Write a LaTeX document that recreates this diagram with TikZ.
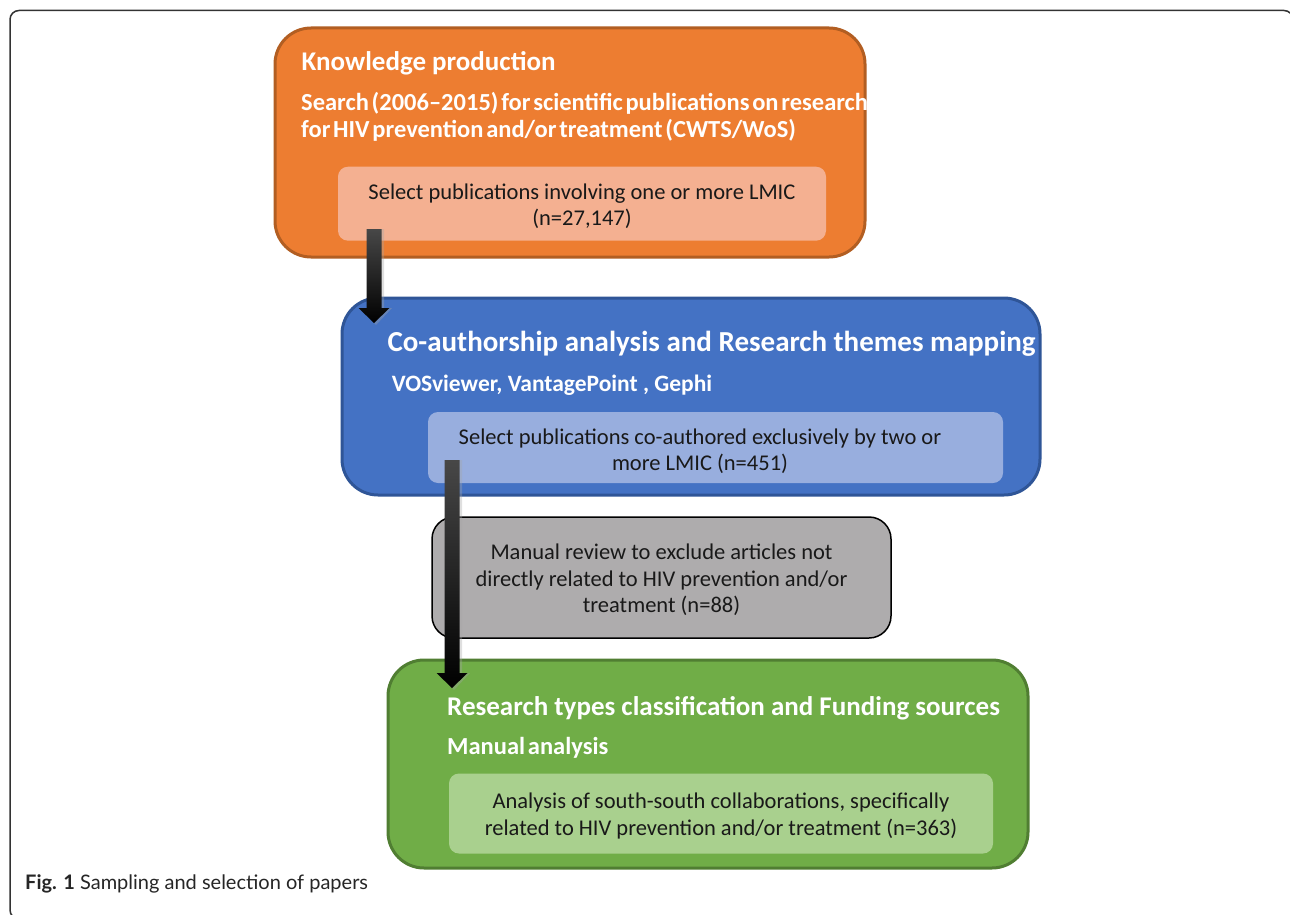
\documentclass[tikz,border=0pt]{standalone}
\usepackage{fontspec}
\setmainfont{Carlito}
\newfontfamily\subfont[WordSpace=0.5]{Carlito}
\newfontfamily\capfont{Lato}
\usetikzlibrary{calc}
\definecolor{orfill}{HTML}{ED7D31}
\definecolor{ordraw}{HTML}{B25E22}
\definecolor{orin}{HTML}{F4B091}
\definecolor{blfill}{HTML}{4472C4}
\definecolor{bldraw}{HTML}{2F5597}
\definecolor{blin}{HTML}{98AEDE}
\definecolor{grfill}{HTML}{70AD47}
\definecolor{grdraw}{HTML}{507E32}
\definecolor{grin}{HTML}{A9D08E}
\definecolor{gyfill}{HTML}{AEACAD}
\definecolor{framecol}{HTML}{333333}
\newcommand\myfatarrow[2]{%
  \fill[black!35,opacity=0.35]
    ($(#1)+(-6,0)$) -- ($(#1)+(10,0)$) -- ($(#2)+(10,-15)$) -- ($(#2)+(18,-15)$) --
    ($(#2)+(2,2)$) -- ($(#2)+(-13,-15)$) -- ($(#2)+(-6,-15)$) -- cycle;
  \shade[top color=black!72, middle color=black, bottom color=black]
    ($(#1)+(-7.5,0)$) -- ($(#1)+(7.5,0)$) -- ($(#2)+(7.5,-15)$) -- ($(#2)+(15.5,-15)$) --
    (#2) -- ($(#2)+(-15.5,-15)$) -- ($(#2)+(-7.5,-15)$) -- cycle;
}
\begin{document}
\begin{tikzpicture}[x=1pt,y=-1pt,
  bigbox/.style={draw, line width=3pt, rounded corners=36pt, inner sep=0pt},
  innerbox/.style={rounded corners=10pt, inner sep=0pt},
  titletext/.style={anchor=base west, inner sep=0pt, text=white,
    font=\bfseries\fontsize{27}{30}\selectfont},
  subtext/.style={anchor=base west, inner sep=0pt, text=white, align=left,
    font=\subfont\bfseries\fontsize{24.5}{27}\selectfont},
  bodytext/.style={inner sep=0pt, align=center, text=black!90,
    font=\fontsize{22.5}{26.5}\selectfont}]
\useasboundingbox (0,0) rectangle (1290,915);
\fill[white] (0,0) rectangle (1290,915);
% outer frame
\draw[framecol, line width=1.5pt, rounded corners=9pt] (10,10.5) rectangle (1293,919);

% orange box
\node[bigbox, draw=ordraw, fill=orfill, minimum width=590pt, minimum height=229pt] (kp) at (570,142.5) {};
\node[titletext] (kpt) at (301.5,70.7) {Knowledge production};
\node[subtext] (kps) at (301,137.7) {Search (2006–2015) for scientific publications on research\\for HIV prevention and/or treatment (CWTS/WoS)};
\node[innerbox, fill=orin, minimum width=488pt, minimum height=74pt] (kpin) at (582,203.7) {};
\node[bodytext] (kpint) at (582,206) {Select publications involving one or more LMIC\\(n=27,147)};

% blue box
\node[bigbox, draw=bldraw, fill=blfill, minimum width=698pt, minimum height=197pt] (ca) at (691,396.5) {};
\node[titletext, font=\bfseries\fontsize{29}{32}\selectfont] (cat) at (387.3,351.7) {Co-authorship analysis and Research themes mapping};
\node[subtext, font=\bfseries\fontsize{23.5}{27}\selectfont] (cas) at (391.7,391) {VOSviewer, VantagePoint , Gephi};
\node[innerbox, fill=blin, minimum width=575pt, minimum height=71pt] (cain) at (715.5,447.5) {};
\node[bodytext] (caint) at (700,451) {Select publications co-authored exclusively by two or\\more LMIC (n=451)};

% gray box
\node[draw=black, line width=1.5pt, rounded corners=22pt, fill=gyfill, inner sep=0pt,
      minimum width=459pt, minimum height=121pt] (mr) at (661.5,577.5) {};
\node[bodytext] (mrt) at (661.5,580) {Manual review to exclude articles not\\directly related to HIV prevention and/or\\treatment (n=88)};

% green box
\node[bigbox, draw=grdraw, fill=grfill, minimum width=640pt, minimum height=208pt] (rt) at (708,764) {};
\node[titletext] (rtt) at (447,715) {Research types classification and Funding sources};
\node[subtext] (rts) at (447,754) {Manual analysis};
\node[innerbox, fill=grin, minimum width=544pt, minimum height=80pt] (rtin) at (721,813.5) {};
\node[bodytext] (rtint) at (721,816) {Analysis of south-south collaborations, specifically\\related to HIV prevention and/or treatment (n=363)};

% arrows
\coordinate (a1s) at (374,229);
\coordinate (a1e) at (374,323);
\coordinate (a2s) at (452,460);
\coordinate (a2e) at (452,688);
\myfatarrow{a1s}{a1e}
\myfatarrow{a2s}{a2e}

% caption
\node[anchor=base west, inner sep=0pt, text=black!85, font=\capfont\fontsize{20}{23}\selectfont] (cap) at (25,889)
  {\textbf{Fig. 1} Sampling and selection of papers};
\end{tikzpicture}
\end{document}
